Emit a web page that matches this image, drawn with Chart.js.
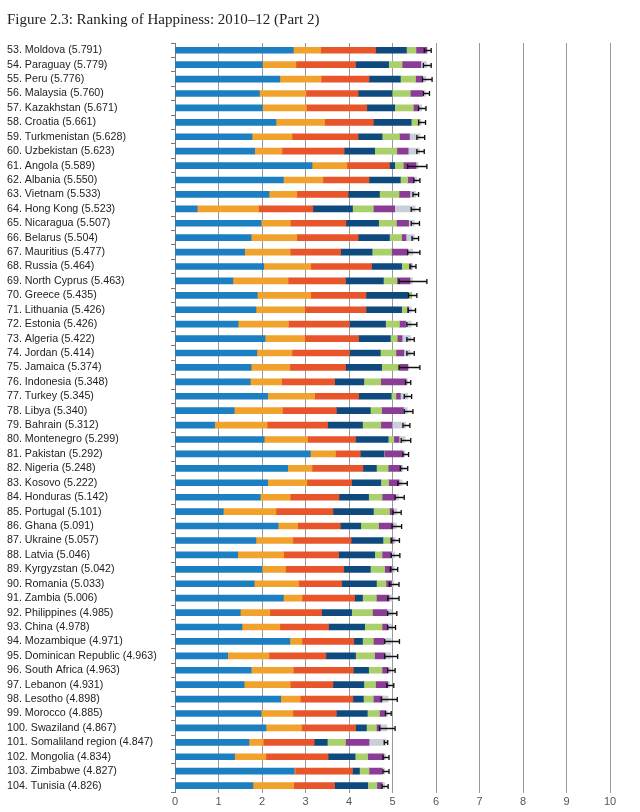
<!DOCTYPE html>
<html>
<head>
<meta charset="utf-8">
<script src="https://cdn.jsdelivr.net/npm/chart.js@4.4.1/dist/chart.umd.min.js"></script>
<style>
  html, body { margin: 0; padding: 0; background: #fff; }
  #wrap { width: 640px; height: 812px; position: relative; }
</style>
</head>
<body>
<div id="wrap"><canvas id="c" width="640" height="812"></canvas></div>
<script>
const categories = [
  "53. Moldova (5.791)", "54. Paraguay (5.779)", "55. Peru (5.776)", "56. Malaysia (5.760)",
  "57. Kazakhstan (5.671)", "58. Croatia (5.661)", "59. Turkmenistan (5.628)", "60. Uzbekistan (5.623)",
  "61. Angola (5.589)", "62. Albania (5.550)", "63. Vietnam (5.533)", "64. Hong Kong (5.523)",
  "65. Nicaragua (5.507)", "66. Belarus (5.504)", "67. Mauritius (5.477)", "68. Russia (5.464)",
  "69. North Cyprus (5.463)", "70. Greece (5.435)", "71. Lithuania (5.426)", "72. Estonia (5.426)",
  "73. Algeria (5.422)", "74. Jordan (5.414)", "75. Jamaica (5.374)", "76. Indonesia (5.348)",
  "77. Turkey (5.345)", "78. Libya (5.340)", "79. Bahrain (5.312)", "80. Montenegro (5.299)",
  "81. Pakistan (5.292)", "82. Nigeria (5.248)", "83. Kosovo (5.222)", "84. Honduras (5.142)",
  "85. Portugal (5.101)", "86. Ghana (5.091)", "87. Ukraine (5.057)", "88. Latvia (5.046)",
  "89. Kyrgyzstan (5.042)", "90. Romania (5.033)", "91. Zambia (5.006)", "92. Philippines (4.985)",
  "93. China (4.978)", "94. Mozambique (4.971)", "95. Dominican Republic (4.963)", "96. South Africa (4.963)",
  "97. Lebanon (4.931)", "98. Lesotho (4.898)", "99. Morocco (4.885)", "100. Swaziland (4.867)",
  "101. Somaliland region (4.847)", "102. Mongolia (4.834)", "103. Zimbabwe (4.827)", "104. Tunisia (4.826)"
];

const dystopiaResidual = [2.72,2.01,2.41,1.94,2.01,2.32,1.77,1.83,3.15,2.49,2.16,0.51,
  1.98,1.75,1.60,2.04,1.33,1.89,1.86,1.45,2.07,1.88,1.75,1.73,2.13,
  1.36,0.91,2.05,3.11,2.59,2.13,1.96,1.11,2.37,1.86,1.44,2.00,1.82,2.49,
  1.50,1.54,2.64,1.21,1.75,1.59,2.43,1.98,2.09,1.70,1.37,2.74,1.79];
const gdpPerCapita = [0.63,0.77,0.95,1.07,1.01,1.12,0.92,0.63,0.80,0.91,0.64,1.41,
  0.67,1.05,1.05,1.08,1.27,1.23,1.12,1.16,0.91,0.81,0.89,0.72,1.08,
  1.11,1.21,1.00,0.58,0.56,0.90,0.69,1.21,0.45,0.85,1.06,0.54,1.02,0.43,
  0.68,0.87,0.28,0.95,0.97,1.06,0.45,0.73,0.82,0.33,0.72,0.02,0.94];
const socialSupport = [1.26,1.37,1.10,1.20,1.39,1.12,1.52,1.43,0.98,1.06,1.18,1.25,
  1.28,1.41,1.16,1.40,1.32,1.27,1.41,1.40,1.24,1.32,1.28,1.22,1.01,
  1.24,1.39,1.10,0.57,1.17,1.03,1.12,1.31,0.98,1.34,1.26,1.34,0.99,1.21,
  1.19,1.12,1.19,1.31,1.38,0.98,1.21,1.00,1.24,1.17,1.43,1.32,0.94];
const healthyLife = [0.71,0.76,0.72,0.78,0.64,0.87,0.55,0.70,0.12,0.72,0.72,0.91,
  0.75,0.72,0.72,0.69,0.87,0.97,0.82,0.83,0.73,0.71,0.83,0.67,0.75,
  0.78,0.80,0.75,0.54,0.31,0.67,0.68,0.93,0.47,0.73,0.83,0.61,0.80,0.18,
  0.69,0.83,0.20,0.68,0.35,0.71,0.24,0.71,0.25,0.30,0.62,0.16,0.76];
const freedom = [0.22,0.31,0.35,0.42,0.43,0.15,0.40,0.51,0.20,0.17,0.45,0.48,
  0.41,0.28,0.45,0.19,0.31,0.07,0.12,0.32,0.16,0.36,0.40,0.39,0.11,
  0.26,0.42,0.13,0.01,0.27,0.18,0.31,0.37,0.41,0.17,0.17,0.33,0.22,0.32,
  0.48,0.40,0.25,0.44,0.31,0.27,0.23,0.28,0.23,0.42,0.29,0.22,0.21];
const generosity = [0.25,0.43,0.16,0.28,0.12,0.03,0.23,0.26,0.29,0.14,0.25,0.49,
  0.28,0.10,0.37,0.03,0.30,0.00,0.04,0.14,0.11,0.18,0.20,0.58,0.10,
  0.50,0.26,0.12,0.43,0.30,0.24,0.30,0.09,0.33,0.06,0.21,0.17,0.13,0.29,
  0.33,0.13,0.24,0.24,0.13,0.28,0.20,0.14,0.09,0.54,0.37,0.30,0.12];
const corruption = [0.00,0.13,0.08,0.07,0.07,0.05,0.24,0.26,0.05,0.06,0.14,0.47,
  0.13,0.19,0.12,0.03,0.06,0.00,0.06,0.13,0.20,0.15,0.02,0.04,0.17,
  0.09,0.31,0.14,0.05,0.04,0.07,0.08,0.08,0.08,0.05,0.08,0.05,0.05,0.07,
  0.11,0.09,0.17,0.13,0.07,0.04,0.14,0.05,0.15,0.39,0.04,0.06,0.06];

const ciLow = [5.73,5.71,5.69,5.71,5.60,5.60,5.56,5.56,5.35,5.49,5.47,5.43,
  5.43,5.45,5.35,5.40,5.15,5.37,5.36,5.33,5.33,5.33,5.15,5.30,5.27,
  5.27,5.24,5.20,5.24,5.18,5.12,5.06,5.01,4.99,4.97,4.97,4.95,4.93,4.89,
  4.89,4.89,4.82,4.82,4.89,4.87,4.74,4.84,4.70,4.81,4.78,4.78,4.76];
const ciHigh = [5.89,5.89,5.91,5.85,5.77,5.76,5.74,5.73,5.79,5.63,5.60,5.63,
  5.62,5.60,5.63,5.54,5.79,5.56,5.53,5.56,5.50,5.50,5.63,5.42,5.44,
  5.47,5.40,5.42,5.37,5.35,5.34,5.27,5.20,5.21,5.16,5.17,5.12,5.15,5.15,
  5.10,5.07,5.16,5.12,5.06,5.03,5.11,4.97,5.06,4.89,4.92,4.92,4.90];

const xTicks = [0,1,2,3,4,5,6,7,8,9,10];

const seriesNames = ["Dystopia + residual", "GDP per capita", "Social support", "Healthy life expectancy",
  "Freedom to make life choices", "Generosity", "Perceptions of corruption"];
const seriesColors = ["#1b7fc1", "#f0a22c", "#e8552b", "#0f4a7f", "#a9d06b", "#8b3c96", "#c9cfd8"];
const seriesData = [dystopiaResidual, gdpPerCapita, socialSupport, healthyLife, freedom, generosity, corruption];

const errorBars = {
  id: 'errorBars',
  afterDatasetsDraw(chart) {
    const {ctx, scales: {x, y}} = chart;
    ctx.save();
    ctx.strokeStyle = '#111';
    ctx.lineWidth = 1.3;
    for (let i = 0; i < categories.length; i++) {
      const py = Math.round(y.getPixelForValue(i)) + 0.5;
      const x0 = x.getPixelForValue(ciLow[i]);
      const x1 = x.getPixelForValue(ciHigh[i]);
      ctx.beginPath();
      ctx.moveTo(x0, py); ctx.lineTo(x1, py);
      ctx.moveTo(x0, py - 2.5); ctx.lineTo(x0, py + 2.5);
      ctx.moveTo(x1, py - 2.5); ctx.lineTo(x1, py + 2.5);
      ctx.stroke();
    }
    ctx.restore();
  }
};

new Chart(document.getElementById('c'), {
  type: 'bar',
  data: {
    labels: categories,
    datasets: seriesData.map((d, k) => ({
      label: seriesNames[k],
      data: d,
      backgroundColor: seriesColors[k],
      borderWidth: 0,
      barThickness: 6
    }))
  },
  options: {
    indexAxis: 'y',
    responsive: false,
    animation: false,
    layout: { padding: { left: 7, right: 30, top: 0, bottom: 0 } },
    plugins: {
      legend: { display: false },
      tooltip: { enabled: false },
      title: {
        display: true,
        text: 'Figure 2.3: Ranking of Happiness: 2010–12 (Part 2)',
        align: 'start',
        color: '#222',
        font: { family: "'Liberation Serif', 'DejaVu Serif', serif", size: 15, weight: 'normal' },
        padding: { top: 11, bottom: 14 }
      }
    },
    scales: {
      x: {
        stacked: true,
        min: 0, max: 10,
        afterBuildTicks(scale) { scale.ticks = xTicks.map(v => ({ value: v })); },
        border: { display: false },
        grid: { color: '#999', lineWidth: 1, drawTicks: false },
        ticks: {
          padding: 3,
          color: '#555',
          font: { family: "'Liberation Sans', Arial, sans-serif", size: 11 }
        }
      },
      y: {
        stacked: true,
        afterFit(scale) { scale.width = 168; },
        border: { display: true, color: '#777', width: 1 },
        grid: { offset: true, drawOnChartArea: false, tickLength: 4, color: '#777' },
        ticks: {
          crossAlign: 'far',
          autoSkip: false,
          color: '#222',
          font: { family: "'Liberation Sans', Arial, sans-serif", size: 10.7 }
        }
      }
    }
  },
  plugins: [errorBars]
});
</script>
</body>
</html>
